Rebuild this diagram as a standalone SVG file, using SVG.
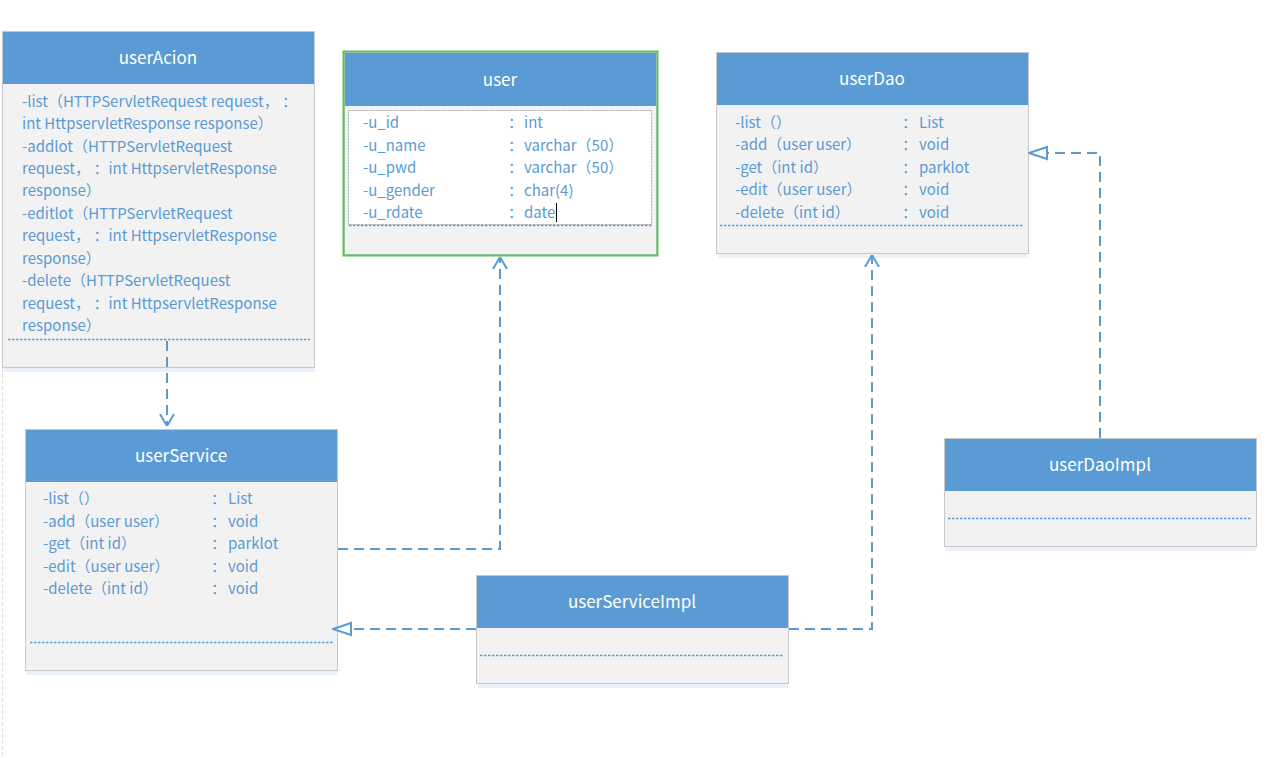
<svg xmlns="http://www.w3.org/2000/svg" width="1272" height="758" viewBox="0 0 1272 758">
<defs>
<style>
.box{fill:#f2f2f2;stroke:#c8c8c8;stroke-width:1}
.hdr{fill:#5b9bd5}
.title{font-family:"Noto Sans CJK SC","Noto Sans",sans-serif;font-size:17px;fill:#ffffff;text-anchor:middle}
.t{font-family:"Noto Sans CJK SC","Noto Sans",sans-serif;font-size:15px;fill:#5b9bd5}
.dot{stroke:#5b9bd5;stroke-width:1.3;stroke-dasharray:2.5 1.5;fill:none}
.conn{stroke:#5b9bd5;stroke-width:2;stroke-dasharray:10 6;fill:none}
.shadow{fill:#dce8f5;opacity:0.6}
</style>
<marker id="open" viewBox="0 0 12 16" refX="12" refY="8" markerWidth="12" markerHeight="16" markerUnits="userSpaceOnUse" orient="auto">
<path d="M0,1 L12,8 L0,15" fill="none" stroke="#5b9bd5" stroke-width="2"/>
</marker>
<marker id="tri" viewBox="0 0 20 16" refX="19" refY="8" markerWidth="20" markerHeight="16" markerUnits="userSpaceOnUse" orient="auto">
<path d="M1,2 L19,8 L1,14 Z" fill="#ffffff" stroke="#5b9bd5" stroke-width="2"/>
</marker>
</defs>
<rect width="1272" height="758" fill="#ffffff"/>
<line x1="2.5" y1="368" x2="2.5" y2="758" stroke="#dddddd" stroke-width="1" stroke-dasharray="4 2"/>

<g id="userAcion">
<rect class="shadow" x="4" y="368" width="311" height="4"/>
<rect class="box" x="2.5" y="31.5" width="312" height="336"/>
<rect class="hdr" x="3" y="32" width="311" height="52"/>
<text class="title" x="158" y="64">userAcion</text>
<text class="t" x="22" y="107">-list（HTTPServletRequest request，  ：</text>
<text class="t" x="22" y="129">int HttpservletResponse response）</text>
<text class="t" x="22" y="152">-addlot（HTTPServletRequest</text>
<text class="t" x="22" y="174">request，  ：int HttpservletResponse</text>
<text class="t" x="22" y="196">response）</text>
<text class="t" x="22" y="219">-editlot（HTTPServletRequest</text>
<text class="t" x="22" y="241">request，  ：int HttpservletResponse</text>
<text class="t" x="22" y="264">response）</text>
<text class="t" x="22" y="286">-delete（HTTPServletRequest</text>
<text class="t" x="22" y="309">request，  ：int HttpservletResponse</text>
<text class="t" x="22" y="331">response）</text>
<line class="dot" x1="8" y1="339.5" x2="310" y2="339.5"/>
</g>

<g id="user">
<rect class="box" x="344.5" y="52.5" width="312" height="202"/>
<rect class="hdr" x="345" y="53" width="311" height="53"/>
<text class="title" x="500" y="86">user</text>
<rect x="348.5" y="110.5" width="303" height="114" fill="#ffffff" stroke="#aaaaaa" stroke-width="1" stroke-dasharray="2 1"/>
<text class="t" x="363" y="128">-u_id</text><text class="t" x="508" y="128">：</text><text class="t" x="524" y="128">int</text>
<text class="t" x="363" y="151">-u_name</text><text class="t" x="508" y="151">：</text><text class="t" x="524" y="151">varchar（50）</text>
<text class="t" x="363" y="173">-u_pwd</text><text class="t" x="508" y="173">：</text><text class="t" x="524" y="173">varchar（50）</text>
<text class="t" x="363" y="196">-u_gender</text><text class="t" x="508" y="196">：</text><text class="t" x="524" y="196">char(4)</text>
<text class="t" x="363" y="218">-u_rdate</text><text class="t" x="508" y="218">：</text><text class="t" x="524" y="218">date</text>
<line x1="556.5" y1="203" x2="556.5" y2="222" stroke="#000000" stroke-width="1"/>
<line class="dot" x1="349" y1="225.5" x2="652" y2="225.5"/>
<rect x="343.5" y="51.5" width="314" height="204" fill="none" stroke="#5cc35a" stroke-width="2"/>
</g>

<g id="userDao">
<rect class="shadow" x="718" y="254" width="310" height="4"/>
<rect class="box" x="716.5" y="52.5" width="312" height="201"/>
<rect class="hdr" x="717" y="53" width="311" height="52"/>
<text class="title" x="872" y="85">userDao</text>
<text class="t" x="735" y="128">-list（）</text><text class="t" x="902" y="128">：</text><text class="t" x="919" y="128">List</text>
<text class="t" x="735" y="150">-add（user user）</text><text class="t" x="902" y="150">：</text><text class="t" x="919" y="150">void</text>
<text class="t" x="735" y="173">-get（int id）</text><text class="t" x="902" y="173">：</text><text class="t" x="919" y="173">parklot</text>
<text class="t" x="735" y="195">-edit（user user）</text><text class="t" x="902" y="195">：</text><text class="t" x="919" y="195">void</text>
<text class="t" x="735" y="218">-delete（int id）</text><text class="t" x="902" y="218">：</text><text class="t" x="919" y="218">void</text>
<line class="dot" x1="720" y1="225.5" x2="1024" y2="225.5"/>
</g>

<g id="userService">
<rect class="shadow" x="27" y="671" width="310" height="4"/>
<rect class="box" x="25.5" y="429.5" width="312" height="241"/>
<rect class="hdr" x="26" y="430" width="311" height="52"/>
<text class="title" x="181" y="462">userService</text>
<text class="t" x="43" y="504">-list（）</text><text class="t" x="211" y="504">：</text><text class="t" x="228" y="504">List</text>
<text class="t" x="43" y="527">-add（user user）</text><text class="t" x="211" y="527">：</text><text class="t" x="228" y="527">void</text>
<text class="t" x="43" y="549">-get（int id）</text><text class="t" x="211" y="549">：</text><text class="t" x="228" y="549">parklot</text>
<text class="t" x="43" y="572">-edit（user user）</text><text class="t" x="211" y="572">：</text><text class="t" x="228" y="572">void</text>
<text class="t" x="43" y="594">-delete（int id）</text><text class="t" x="211" y="594">：</text><text class="t" x="228" y="594">void</text>
<line class="dot" x1="30" y1="642.5" x2="333" y2="642.5"/>
</g>

<g id="userServiceImpl">
<rect class="shadow" x="478" y="684" width="310" height="4"/>
<rect class="box" x="476.5" y="575.5" width="312" height="108"/>
<rect class="hdr" x="477" y="576" width="311" height="52"/>
<text class="title" x="632" y="608">userServiceImpl</text>
<line class="dot" x1="480" y1="655.5" x2="784" y2="655.5"/>
</g>

<g id="userDaoImpl">
<rect class="shadow" x="946" y="547" width="310" height="4"/>
<rect class="box" x="944.5" y="438.5" width="312" height="108"/>
<rect class="hdr" x="945" y="439" width="311" height="52"/>
<text class="title" x="1100" y="471">userDaoImpl</text>
<line class="dot" x1="948" y1="518.5" x2="1252" y2="518.5"/>
</g>

<g id="connectors">
<path class="conn" d="M167,341 L167,426" marker-end="url(#open)"/>
<path class="conn" d="M338,549 L500,549 L500,257" marker-end="url(#open)"/>
<path class="conn" d="M476,629 L333,629" marker-end="url(#tri)"/>
<path class="conn" d="M789,629 L872,629 L872,255" marker-end="url(#open)"/>
<path class="conn" d="M1100,438 L1100,153 L1029,153" marker-end="url(#tri)"/>
</g>
</svg>
